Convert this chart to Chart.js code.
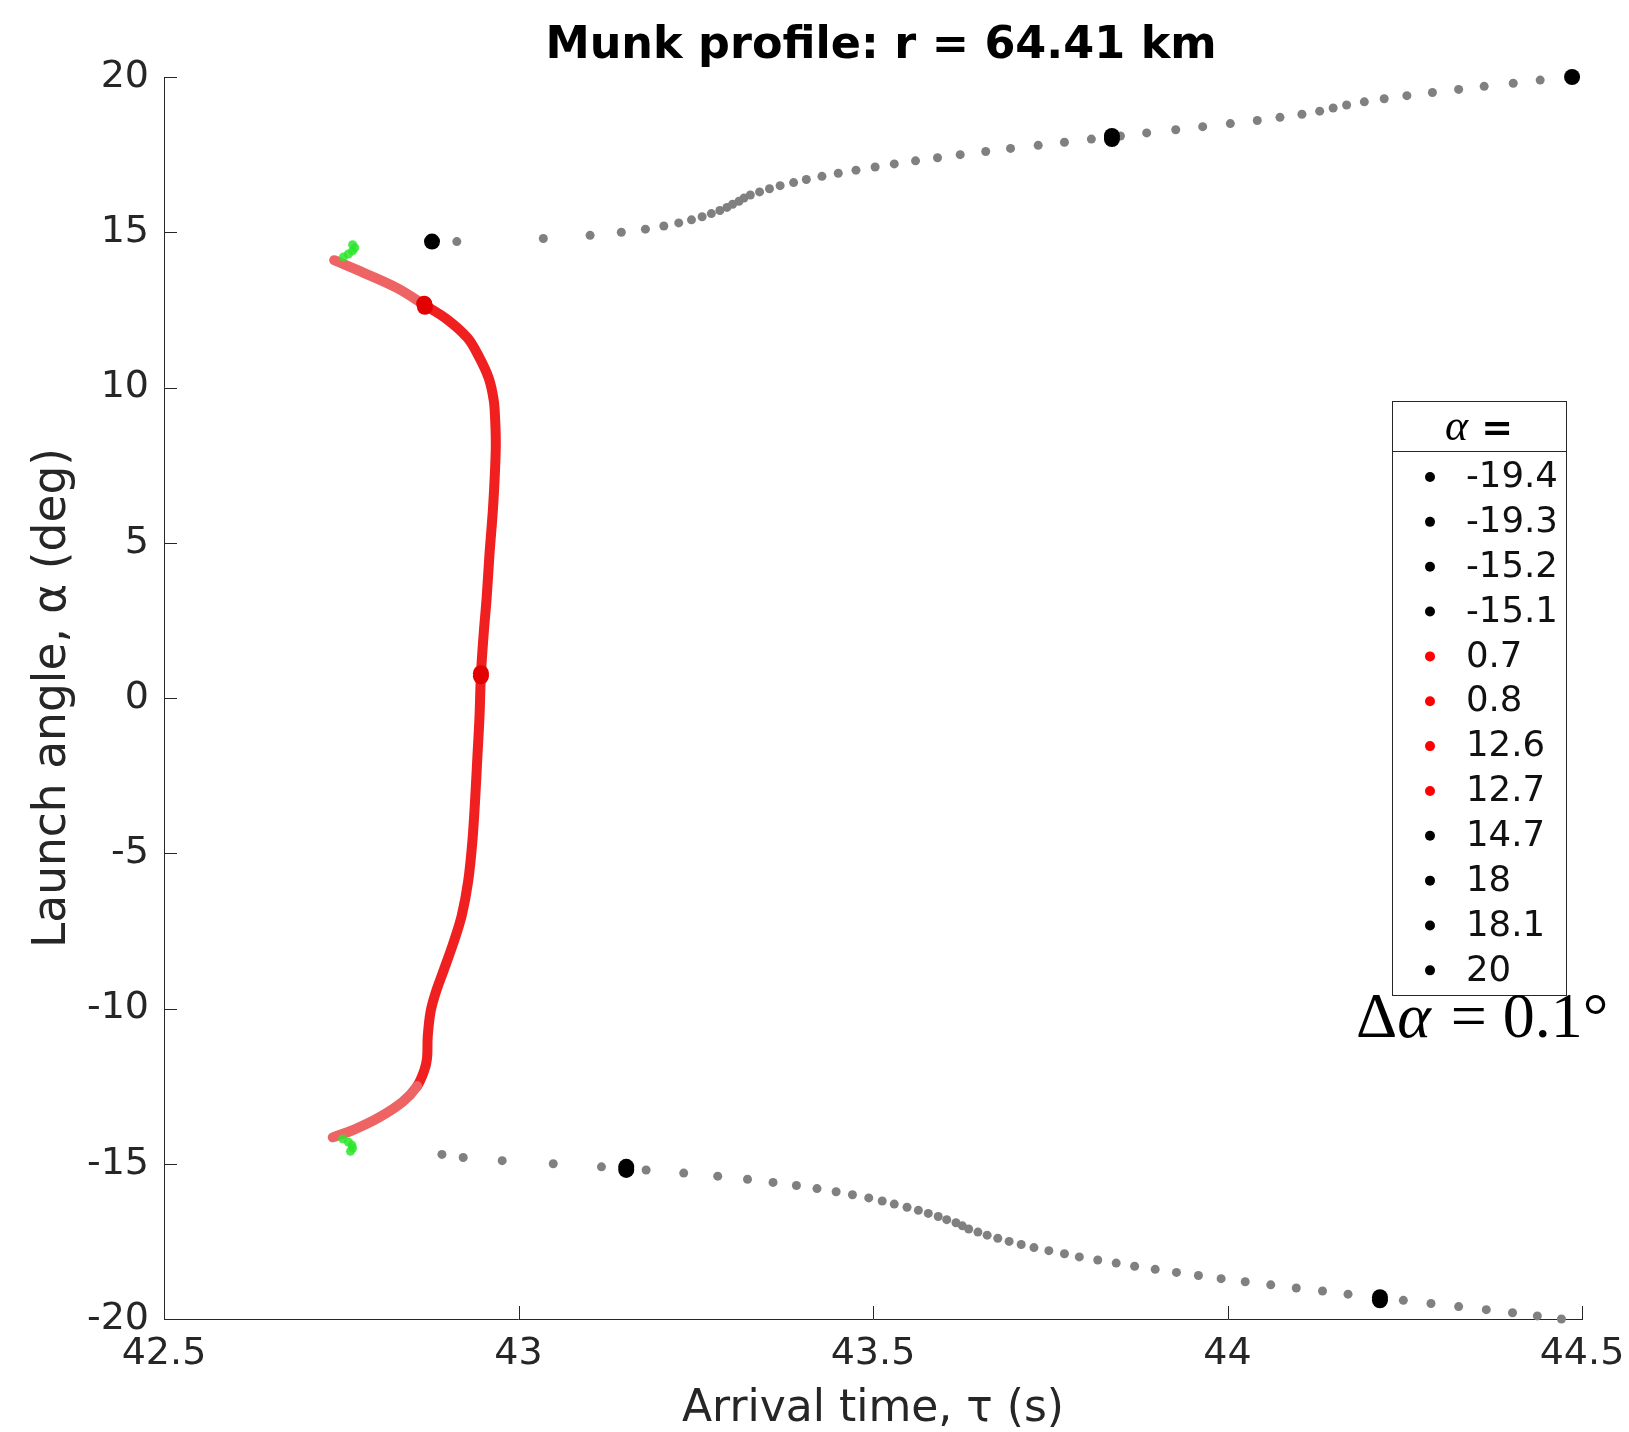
<!DOCTYPE html>
<html>
<head>
<meta charset="utf-8">
<script src="https://cdn.jsdelivr.net/npm/chart.js@4.4.1/dist/chart.umd.min.js"></script>
<style>
html,body{margin:0;padding:0;background:#ffffff;}
canvas{display:block;}
</style>
</head>
<body>
<canvas id="c" width="1629" height="1432"></canvas>
<script>
// ---------------- text ----------------
const titleText = 'Munk profile: r = 64.41 km';
const xTitle = 'Arrival time, τ (s)';
const yTitle = 'Launch angle, α (deg)';
const xTickValues = [42.5, 43, 43.5, 44, 44.5];
const xTickLabels = ['42.5', '43', '43.5', '44', '44.5'];
const yTickValues = [-20, -15, -10, -5, 0, 5, 10, 15, 20];
const yTickLabels = ['-20', '-15', '-10', '-5', '0', '5', '10', '15', '20'];
const legendHeader = 'α';
const deltaLabel = ['Δ', 'α', ' = 0.1°'];

// ---------------- data ----------------
// upper branch (grey), launch angle (deg) and arrival time (s)
const upperAlpha = [14.7,14.8,14.9,15.0,15.1,15.2,15.3,15.4,15.5,15.6,15.7,15.8,15.9,16.0,16.1,16.2,16.3,16.4,16.5,16.6,
  16.7,16.8,16.9,17.0,17.1,17.2,17.3,17.4,17.5,17.6,17.7,17.8,17.9,18.0,18.1,18.2,18.3,18.4,18.5,18.6,
  18.7,18.8,18.9,19.0,19.1,19.2,19.3,19.4,19.5,19.6,19.7,19.8,19.9];
const upperTau = [42.913,43.035,43.101,43.145,43.179,43.205,43.226,43.244,43.259,43.272,43.284,43.294,43.302,43.311,43.318,43.327,43.340,43.354,43.369,43.388,
  43.406,43.428,43.451,43.476,43.503,43.530,43.560,43.591,43.623,43.659,43.694,43.733,43.770,43.808,43.849,43.886,43.927,43.965,44.004,44.042,
  44.074,44.105,44.130,44.149,44.168,44.193,44.221,44.253,44.289,44.326,44.362,44.403,44.441];

// lower branch (grey)
const lowerAlpha = [-14.7,-14.8,-14.9,-15.0,-15.1,-15.2,-15.3,-15.4,-15.5,-15.6,-15.7,-15.8,-15.9,-16.0,-16.1,-16.2,-16.3,-16.4,-16.5,-16.6,
  -16.7,-16.8,-16.9,-17.0,-17.1,-17.2,-17.3,-17.4,-17.5,-17.6,-17.7,-17.8,-17.9,-18.0,-18.1,-18.2,-18.3,-18.4,-18.5,-18.6,
  -18.7,-18.8,-18.9,-19.0,-19.1,-19.2,-19.4,-19.5,-19.6,-19.7,-19.8,-19.9,-20.0];
const lowerTau = [42.892,42.922,42.977,43.049,43.117,43.180,43.233,43.281,43.323,43.359,43.392,43.421,43.448,43.471,43.494,43.513,43.530,43.548,43.564,43.578,
  43.592,43.604,43.617,43.626,43.635,43.648,43.661,43.676,43.692,43.709,43.727,43.748,43.770,43.791,43.817,43.843,43.869,43.898,43.928,43.959,
  43.991,44.025,44.061,44.097,44.134,44.170,44.248,44.287,44.326,44.365,44.402,44.437,44.471];

// green fragments near the caustics
const greenUpperAlpha = [14.2, 14.3, 14.4, 14.5, 14.6];
const greenUpperTau = [42.753, 42.760, 42.766, 42.769, 42.766];
const greenLowerAlpha = [-14.2, -14.3, -14.4, -14.5, -14.6];
const greenLowerTau = [42.752, 42.760, 42.765, 42.766, 42.763];

// red (refracted) branch
const redAlpha = [14.10,13.70,13.20,12.65,12.20,11.60,11.00,10.30,9.60,9.00,8.20,7.40,6.10,4.60,3.20,2.10,0.75,-0.60,
  -1.90,-3.20,-4.60,-5.90,-7.00,-7.90,-8.80,-9.50,-10.10,-10.90,-11.60,-12.00,-12.50,-13.00,-13.50,-13.90,-14.15];
const redTau = [42.740,42.781,42.829,42.868,42.899,42.928,42.944,42.958,42.965,42.967,42.968,42.967,42.964,42.959,42.955,42.951,42.947,42.945,
  42.942,42.939,42.935,42.929,42.920,42.908,42.894,42.883,42.876,42.872,42.871,42.867,42.857,42.837,42.804,42.768,42.738];

// eigenrays (legend entries)
const eigenLabels = ['-19.4','-19.3','-15.2','-15.1','0.7','0.8','12.6','12.7','14.7','18','18.1','20'];
const eigenAlpha = [-19.4,-19.3,-15.2,-15.1,0.7,0.8,12.6,12.7,14.7,18.0,18.1,20.0];
const eigenTau = [44.215,44.215,43.152,43.152,42.947,42.947,42.868,42.867,42.878,43.837,43.837,44.486];
const eigenIsRed = [false,false,false,false,true,true,true,true,false,false,false,false];

// ---------------- build ----------------
const pts = (xs, ys) => xs.map((v, i) => ({x: v, y: ys[i]}));
const AX = '#262626';
const FONT = '"DejaVu Sans", sans-serif';

const datasets = [];
eigenLabels.forEach((lab, i) => {
  const col = eigenIsRed[i] ? 'rgb(226,0,0)' : '#000000';
  datasets.push({
    label: lab, isEigen: true, legendColor: eigenIsRed[i] ? '#ff0000' : '#000000',
    data: [{x: eigenTau[i], y: eigenAlpha[i]}],
    pointRadius: 8, pointBackgroundColor: col, pointBorderColor: col, pointBorderWidth: 0,
    showLine: false, order: 0, clip: false
  });
});
datasets.push({
  label: 'green up', data: pts(greenUpperTau, greenUpperAlpha), showLine: false,
  pointRadius: 4.5, pointBackgroundColor: 'rgba(45,230,45,0.85)', pointBorderWidth: 0, order: 1, clip: false
});
datasets.push({
  label: 'green down', data: pts(greenLowerTau, greenLowerAlpha), showLine: false,
  pointRadius: 4.5, pointBackgroundColor: 'rgba(45,230,45,0.85)', pointBorderWidth: 0, order: 1, clip: false
});
datasets.push({
  label: 'red branch', data: pts(redTau, redAlpha), showLine: true, tension: 0.35,
  borderWidth: 10, borderColor: 'rgb(240,32,32)', pointRadius: 0, borderCapStyle: 'round', borderJoinStyle: 'round',
  segment: {
    borderColor: ctx => {
      const a = Math.min(Math.abs(ctx.p0.parsed.y), Math.abs(ctx.p1.parsed.y));
      return a > 12.4 ? 'rgb(238,100,100)' : 'rgb(240,32,32)';
    }
  },
  order: 2, clip: false
});
datasets.push({
  label: 'upper', data: pts(upperTau, upperAlpha), showLine: false,
  pointRadius: 4.5, pointBackgroundColor: '#808080', pointBorderWidth: 0, order: 3, clip: false
});
datasets.push({
  label: 'lower', data: pts(lowerTau, lowerAlpha), showLine: false,
  pointRadius: 4.5, pointBackgroundColor: '#808080', pointBorderWidth: 0, order: 3, clip: false
});

// ---------------- plugins ----------------
const decorPlugin = {
  id: 'decor',
  afterDraw(chart) {
    const ctx = chart.ctx;
    const a = chart.chartArea;
    const xs = chart.scales.x, ys = chart.scales.y;
    ctx.save();
    // inward ticks
    ctx.strokeStyle = AX; ctx.lineWidth = 1;
    ctx.beginPath();
    xs.ticks.forEach(t => {
      const px = Math.round(xs.getPixelForValue(t.value)) + 0.5;
      ctx.moveTo(px, a.bottom); ctx.lineTo(px, a.bottom - 13);
    });
    ys.ticks.forEach(t => {
      const py = Math.round(ys.getPixelForValue(t.value)) + 0.5;
      ctx.moveTo(a.left, py); ctx.lineTo(a.left + 13, py);
    });
    ctx.stroke();

    // title
    ctx.fillStyle = '#000';
    ctx.font = 'bold 44.5px ' + FONT;
    ctx.textAlign = 'center'; ctx.textBaseline = 'middle';
    ctx.fillText(titleText, 881, 46);

    // legend box
    const L = 1392, T = 401, R = 1566, B = 995, H = 451;
    ctx.fillStyle = '#fff'; ctx.fillRect(L, T, R - L, B - T);
    ctx.strokeStyle = AX; ctx.lineWidth = 1;
    ctx.strokeRect(L + 0.5, T + 0.5, R - L, B - T);
    ctx.beginPath(); ctx.moveTo(L, H + 0.5); ctx.lineTo(R, H + 0.5); ctx.stroke();
    // header
    ctx.textBaseline = 'alphabetic'; ctx.textAlign = 'left';
    ctx.font = 'italic 44px "Liberation Serif", serif';
    const wA = ctx.measureText(legendHeader).width;
    ctx.font = 'bold 38px ' + FONT;
    const wE = ctx.measureText(' =').width;
    let hx = (L + R) / 2 - (wA + wE) / 2;
    ctx.fillStyle = '#000';
    ctx.font = 'italic 44px "Liberation Serif", serif';
    ctx.fillText(legendHeader, hx, 440);
    ctx.font = 'bold 38px ' + FONT;
    ctx.fillText(' =', hx + wA, 440);
    // entries
    const items = chart.data.datasets.filter(d => d.isEigen);
    ctx.font = '35.5px ' + FONT;
    ctx.textBaseline = 'middle';
    items.forEach((d, i) => {
      const y = 477 + i * 44.85;
      ctx.fillStyle = d.legendColor;
      ctx.beginPath(); ctx.arc(1430, y, 5, 0, Math.PI * 2); ctx.fill();
      ctx.fillStyle = '#111';
      ctx.fillText(d.label, 1466, y + 1);
    });

    // delta alpha annotation
    ctx.textBaseline = 'alphabetic';
    ctx.fillStyle = '#000';
    let dx = 1356;
    const base = 1037;
    ctx.font = '64px "Liberation Serif", serif';
    ctx.fillText(deltaLabel[0], dx, base); dx += ctx.measureText(deltaLabel[0]).width;
    ctx.font = 'italic 64px "Liberation Serif", serif';
    ctx.fillText(deltaLabel[1], dx, base); dx += ctx.measureText(deltaLabel[1]).width + 4;
    ctx.font = '64px "Liberation Serif", serif';
    ctx.fillText(deltaLabel[2], dx, base);
    ctx.restore();
  }
};

new Chart(document.getElementById('c'), {
  type: 'scatter',
  data: {datasets},
  options: {
    responsive: false, animation: false, events: [],
    devicePixelRatio: 1,
    layout: {padding: {top: 77, right: 47, left: 0, bottom: 0}},
    plugins: {legend: {display: false}, tooltip: {enabled: false}, title: {display: false}},
    scales: {
      x: {
        type: 'linear', min: 42.5, max: 44.5,
        afterBuildTicks: s => { s.ticks = xTickValues.map(v => ({value: v})); },
        afterFit: s => { s.height = 113; s.paddingRight = 40; s.paddingLeft = 0; },
        ticks: {
          autoSkip: false, maxRotation: 0, padding: 12, color: AX,
          font: {family: FONT, size: 38},
          callback: (v, i) => xTickLabels[i]
        },
        grid: {display: true, drawOnChartArea: false, drawTicks: false},
        border: {display: true, color: AX, width: 1},
        title: {display: true, text: xTitle, color: AX, font: {family: FONT, size: 44, lineHeight: 1.0}, padding: {top: 0, bottom: 0}}
      },
      y: {
        type: 'linear', min: -20, max: 20,
        afterBuildTicks: s => { s.ticks = yTickValues.map(v => ({value: v})); },
        afterFit: s => { s.width = 164; },
        ticks: {
          autoSkip: false, padding: 15, color: AX,
          font: {family: FONT, size: 38},
          callback: (v, i) => yTickLabels[i]
        },
        grid: {display: true, drawOnChartArea: false, drawTicks: false},
        border: {display: true, color: AX, width: 1},
        title: {display: true, text: yTitle, color: AX, font: {family: FONT, size: 45.5, lineHeight: 1.2}, padding: {top: 26, bottom: 0}}
      }
    }
  },
  plugins: [decorPlugin]
});
</script>
</body>
</html>
